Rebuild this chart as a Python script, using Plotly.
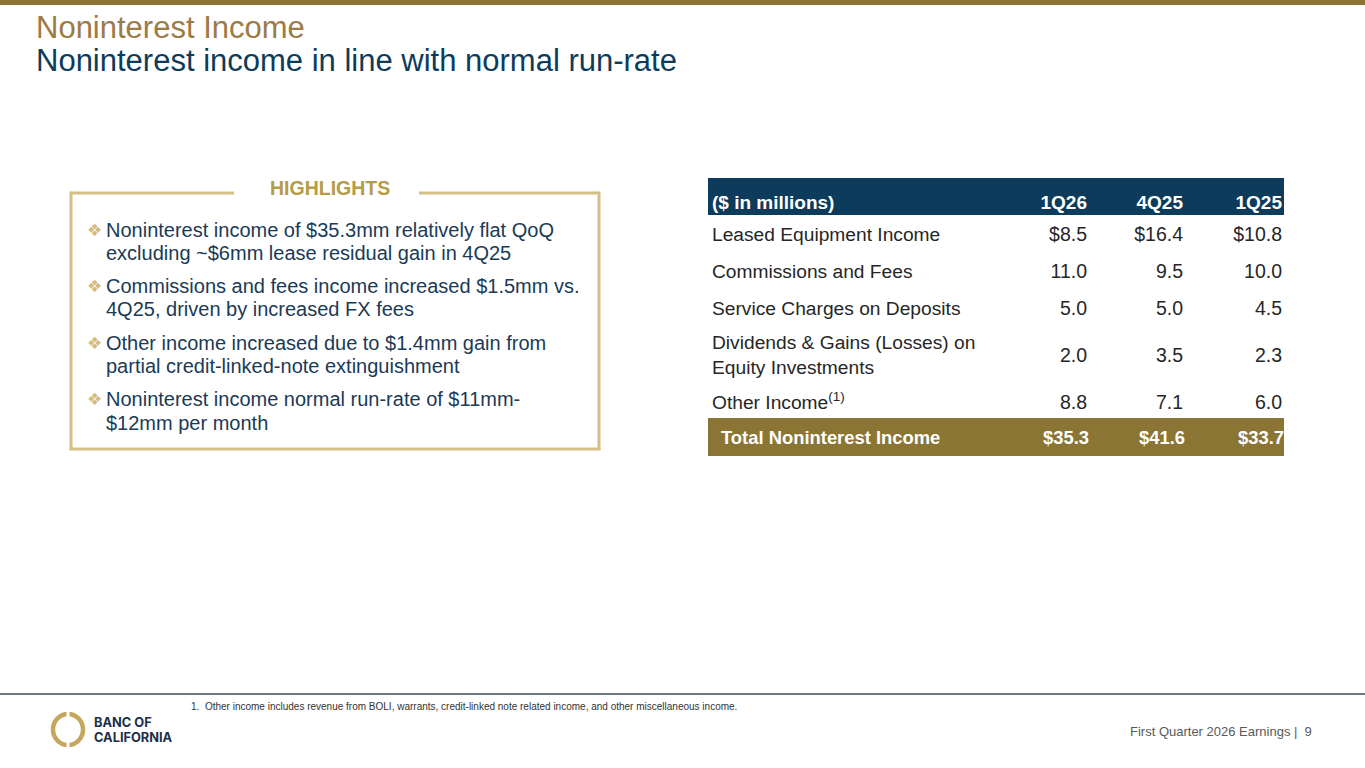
import plotly.graph_objects as go

# table data ($ in millions)
periods = ["1Q26", "4Q25", "1Q25"]
line_items = ["Leased Equipment Income", "Commissions and Fees", "Service Charges on Deposits",
              "Dividends & Gains (Losses) on<br>Equity Investments", "Other Income<sup>(1)</sup>"]
q1_26 = [8.5, 11.0, 5.0, 2.0, 8.8]
q4_25 = [16.4, 9.5, 5.0, 3.5, 7.1]
q1_25 = [10.8, 10.0, 4.5, 2.3, 6.0]
totals = [35.3, 41.6, 33.7]

highlights = [
    ["Noninterest income of $35.3mm relatively flat QoQ", "excluding ~$6mm lease residual gain in 4Q25"],
    ["Commissions and fees income increased $1.5mm vs.", "4Q25, driven by increased FX fees"],
    ["Other income increased due to $1.4mm gain from", "partial credit-linked-note extinguishment"],
    ["Noninterest income normal run-rate of $11mm-", "$12mm per month"],
]

footnote = "1.  Other income includes revenue from BOLI, warrants, credit-linked note related income, and other miscellaneous income."

FONT = "Liberation Sans, Arial, sans-serif"
NAVY = "#0c3b5b"
GOLD = "#8b7535"
TXT = "#262626"

W, H = 1365, 768
row_y = [236, 273, 310, 357, 404]
head_y = 204
total_y = 439
col_x = [1087, 1183, 1282]
label_x = 712

fig = go.Figure()


def fmt(v, dollar):
    return ("$" if dollar else "") + f"{v:.1f}"


# row labels
fig.add_trace(go.Scatter(
    x=[label_x] * len(line_items), y=row_y, text=line_items, mode="text",
    textposition="middle right", textfont=dict(family=FONT, size=19.2, color=TXT),
    hoverinfo="skip", showlegend=False))

# value columns
for i, vals in enumerate([q1_26, q4_25, q1_25]):
    fig.add_trace(go.Scatter(
        x=[col_x[i]] * len(vals), y=row_y,
        text=[fmt(v, k == 0) for k, v in enumerate(vals)], mode="text",
        textposition="middle left", textfont=dict(family=FONT, size=19.5, color=TXT),
        hoverinfo="skip", showlegend=False))

# header row
fig.add_trace(go.Scatter(
    x=[label_x] + col_x, y=[head_y] * 4,
    text=["<b>($ in millions)</b>"] + ["<b>%s</b>" % p for p in periods], mode="text",
    textposition=["middle right", "middle left", "middle left", "middle left"],
    textfont=dict(family=FONT, size=19, color="white"),
    hoverinfo="skip", showlegend=False))

# total row
fig.add_trace(go.Scatter(
    x=[721] + [c + 2 for c in col_x], y=[total_y] * 4,
    text=["<b>Total Noninterest Income</b>"] + ["<b>%s</b>" % fmt(t, True) for t in totals], mode="text",
    textposition=["middle right", "middle left", "middle left", "middle left"],
    textfont=dict(family=FONT, size=18.4, color="white"),
    hoverinfo="skip", showlegend=False))

shapes = [
    # top bar
    dict(type="rect", x0=0, x1=W, y0=0, y1=5, fillcolor=GOLD, line_width=0, layer="below"),
    # table header and total bands
    dict(type="rect", x0=708, x1=1284, y0=178, y1=215, fillcolor=NAVY, line_width=0, layer="below"),
    dict(type="rect", x0=708, x1=1284, y0=418, y1=456, fillcolor=GOLD, line_width=0, layer="below"),
    # highlights box (gap at top for label)
    dict(type="line", x0=71, x1=234, y0=193, y1=193, line=dict(color="#d5bf87", width=3)),
    dict(type="line", x0=419, x1=599, y0=193, y1=193, line=dict(color="#d5bf87", width=3)),
    dict(type="line", x0=71, x1=71, y0=191.5, y1=450, line=dict(color="#d5bf87", width=3)),
    dict(type="line", x0=599, x1=599, y0=191.5, y1=450, line=dict(color="#d5bf87", width=3)),
    dict(type="line", x0=69.5, x1=600.5, y0=449, y1=449, line=dict(color="#d5bf87", width=3)),
    # footer rule
    dict(type="line", x0=0, x1=W, y0=694, y1=694, line=dict(color="#3d4b55", width=1.5)),
    # logo ring
    dict(type="circle", x0=53, x1=83, y0=714, y1=745, line=dict(color="#c6a65c", width=4.5)),
    dict(type="rect", x0=66.5, x1=69.5, y0=710, y1=718, fillcolor="white", line_width=0),
    dict(type="rect", x0=66.5, x1=69.5, y0=741, y1=749, fillcolor="white", line_width=0),
]
for s in shapes:
    s.setdefault("xref", "x")
    s.setdefault("yref", "y")

ann = [
    dict(x=34, y=27, text="Noninterest Income", xanchor="left", yanchor="middle",
         font=dict(family=FONT, size=31, color="#9c7b47")),
    dict(x=34, y=60, text="Noninterest income in line with normal run-rate", xanchor="left", yanchor="middle",
         font=dict(family=FONT, size=31, color="#0d3c5b")),
    dict(x=330, y=188, text="<b>HIGHLIGHTS</b>", xanchor="center", yanchor="middle",
         font=dict(family=FONT, size=19.5, color="#b59c45")),
    dict(x=189, y=706, text=footnote, xanchor="left", yanchor="middle",
         font=dict(family=FONT, size=10, color="#333333")),
    dict(x=92, y=722, text="<b>BANC OF</b>", xanchor="left", yanchor="middle",
         font=dict(family="Inter, sans-serif", size=12.8, color="#1c2f4a")),
    dict(x=92, y=737, text="<b>CALIFORNIA</b>", xanchor="left", yanchor="middle",
         font=dict(family="Inter, sans-serif", size=12.8, color="#1c2f4a")),
    dict(x=1314, y=731, text="First Quarter 2026 Earnings |  9", xanchor="right", yanchor="middle",
         font=dict(family=FONT, size=13, color="#595959")),
]

bullet_y = [[230, 253], [286, 309], [343, 366], [399, 423]]
for lines, ys in zip(highlights, bullet_y):
    ann.append(dict(x=85, y=ys[0], text="\u2756", xanchor="left", yanchor="middle",
                    font=dict(family="DejaVu Sans", size=17, color="#d3bb7e")))
    for line, y in zip(lines, ys):
        ann.append(dict(x=104, y=y, text=line, xanchor="left", yanchor="middle",
                        font=dict(family=FONT, size=20, color="#1b3a56")))

for a in ann:
    a.update(xref="x", yref="y", showarrow=False)

fig.update_layout(
    width=W, height=H, margin=dict(l=0, r=0, t=0, b=0),
    paper_bgcolor="white", plot_bgcolor="white",
    xaxis=dict(range=[0, W], visible=False, fixedrange=True),
    yaxis=dict(range=[H, 0], visible=False, fixedrange=True),
    shapes=shapes, annotations=ann, showlegend=False,
)

fig.write_html("out.html", config={"displayModeBar": False},
               post_script="document.body.style.margin='0';")
